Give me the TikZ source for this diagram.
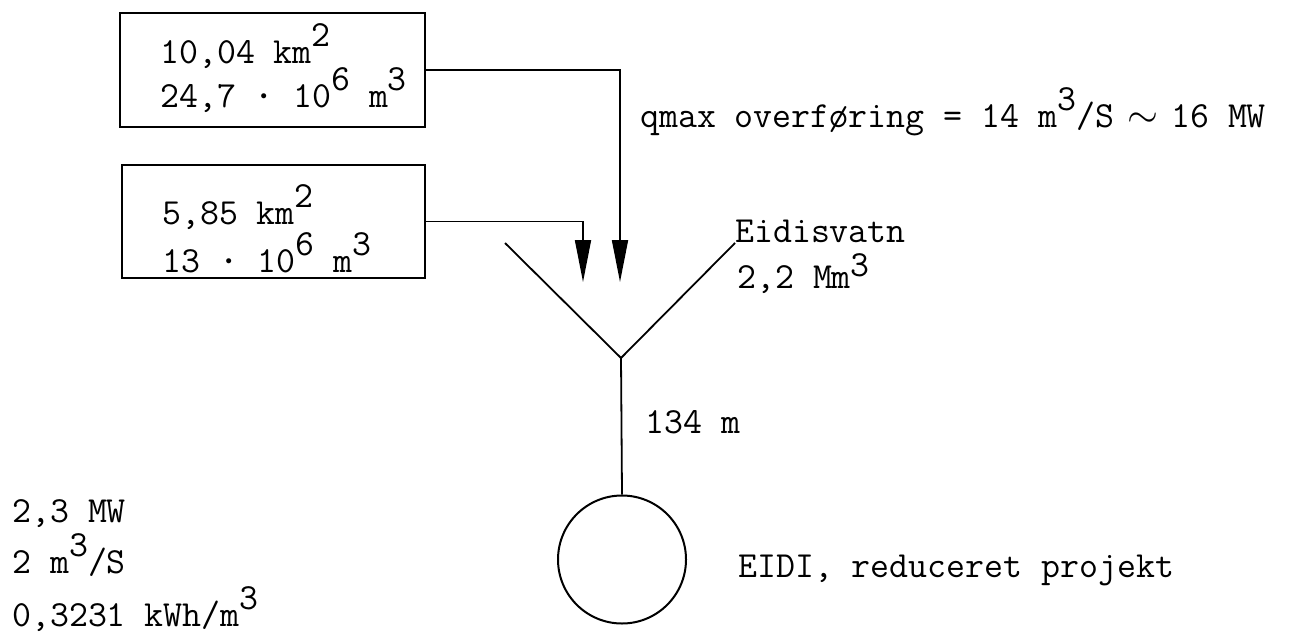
\documentclass[tikz,border=0pt]{standalone}
\usepackage{fontspec}
\usetikzlibrary{arrows.meta}
\newcommand\up[1]{\raisebox{0.45em}{#1}}
\begin{document}
\begin{tikzpicture}[x=1pt,y=-1pt,
  lbl/.style={anchor=base west,inner sep=0pt,font=\ttfamily\fontsize{36.8}{44}\selectfont},
  boxst/.style={draw,line width=2pt,rectangle,inner sep=0pt},
  ln/.style={line width=1.8pt},
  arr/.style={ln,-{Triangle[length=42pt,width=16pt]}}]
\useasboundingbox (0,0) rectangle (1292,637);
% boxes
\node[boxst,minimum width=305pt,minimum height=114pt] (box1) at (272.5,70) {};
\node[boxst,minimum width=303pt,minimum height=113pt] (box2) at (273.5,221.5) {};
\node[lbl] (b1a) at (160,63) {10,04 km\up{2}};
\node[lbl] (b1b) at (160,107) {24,7 \textbf{·} 10\up{6} m\up{3}};
\node[lbl] (b2a) at (162,224) {5,85 km\up{2}};
\node[lbl] (b2b) at (162,272) {13 \textbf{·} 10\up{6} m\up{3}};
% arrow tips and junction
\coordinate (t1) at (620,282);
\coordinate (t2) at (583,282);
\coordinate (j) at (621,358);
\coordinate (yl) at (505,243);
\coordinate (yr) at (735,243);
\draw[arr] (box1.east) -| (t1);
\draw[arr] (box2.east) -| (t2);
\draw[ln] (yl) -- (j) -- (yr);
\node[draw,circle,line width=2pt,minimum size=128pt,inner sep=0pt] (turb) at (622,559.5) {};
\draw[ln] (j) -- (turb.north);
% labels
\node[lbl] (q) at (640,127) {qmax overføring = 14 m\up{3}/S \makebox[0.525em]{\scalebox{1.6}{$\sim$}} 16 MW};
\node[lbl] (eid) at (735,242) {Eidisvatn};
\node[lbl] (eidv) at (737,288) {2,2 Mm\raisebox{0.3em}{3}};
\node[lbl] (h) at (645,433) {134 m};
\node[lbl] (eidi) at (738,577) {EIDI, reduceret projekt};
\node[lbl] (p1) at (12,522) {2,3 MW};
\node[lbl] (p2) at (12,573) {2 m\up{3}/S};
\node[lbl] (p3) at (12,626) {0,3231 kWh/m\up{3}};
\end{tikzpicture}
\end{document}
